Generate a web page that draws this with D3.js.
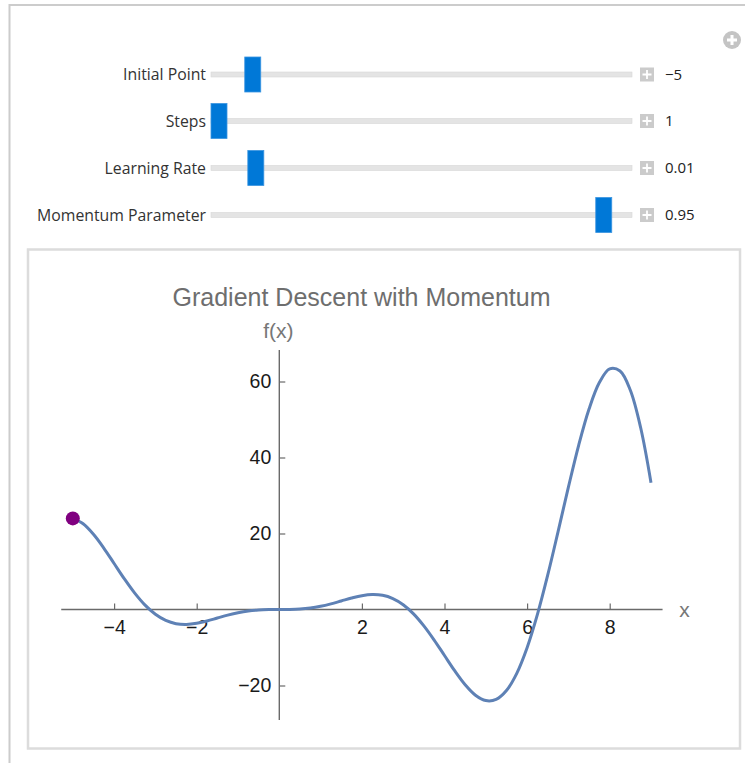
<!DOCTYPE html>
<html><head><meta charset="utf-8">
<script src="https://cdn.jsdelivr.net/npm/d3@7"></script>
<style>body{margin:0;background:#fff;} svg{display:block;}</style>
</head><body><svg id="c" width="745" height="763"></svg>
<script>
// ---- control panel data ----
const sliderLabels = ["Initial Point", "Steps", "Learning Rate", "Momentum Parameter"];
const sliderValues = [-5, 1, 0.01, 0.95];
const sliderMin = [-6, 1, 0.001, 0];
const sliderMax = [6, 50, 0.1, 1];
const sliderText = ["\u22125", "1", "0.01", "0.95"];

// ---- chart data: f(x) ----
const fnX = [-5, -4.75, -4.5, -4.25, -4, -3.75, -3.5, -3.25, -3, -2.75, -2.5, -2.25, -2, -1.75, -1.5, -1.25, -1, -0.75, -0.5, -0.25,
  0, 0.25, 0.5, 0.75, 1, 1.25, 1.5, 1.75, 2, 2.25, 2.5, 2.75, 3, 3.25, 3.5, 3.75, 4, 4.25, 4.5, 4.75, 5,
  5.25, 5.5, 5.75, 6, 6.25, 6.5, 6.75, 7, 7.25, 7.5, 7.75, 8, 8.25, 8.5, 8.75, 9];
const fnY = [23.97, 22.55, 19.79, 16.17, 12.11, 8.04, 4.30, 1.14, -1.27, -2.89, -3.74, -3.94, -3.64, -3.01, -2.24, -1.48, -0.84, -0.38, -0.12, -0.02,
  0, 0.02, 0.12, 0.38, 0.84, 1.48, 2.24, 3.01, 3.64, 3.94, 3.74, 2.89, 1.27, -1.14, -4.30, -8.04, -12.11, -16.17, -19.79, -22.55, -23.97,
  -23.67, -21.34, -16.80, -10.06, -1.30, 9.09, 20.50, 32.19, 43.27, 52.76, 59.73, 63.32, 62.76, 57.69, 47.82, 33.38];
const pointX = [-5];
const pointY = [23.97];

const chartTitle = "Gradient Descent with Momentum";
const xTicks = [-4, -2, 2, 4, 6, 8];
const xMinorTicks = [-5, -4.5, -3.5, -3, -2.5, -1.5, -1, -0.5, 0.5, 1, 1.5, 2.5, 3, 3.5, 4.5, 5, 5.5, 6.5, 7, 7.5, 8.5, 9];
const yTicks = [-20, 20, 40, 60];
const yMinorTicks = [-25, -15, -10, -5, 5, 10, 15, 25, 30, 35, 45, 50, 55, 65];
const xRange = [-5.28, 9.28];
const yRange = [-29.1, 68.3];

const svg = d3.select("#c");
const uiFont = "'Open Sans', 'Noto Sans', sans-serif";
const plotFont = "'Liberation Sans', Arial, sans-serif";

// outer frame
svg.append("path").attr("d", "M9.5,763 V5 H745").attr("fill", "none")
  .attr("stroke", "#cccccc").attr("stroke-width", 2);

// top-right options icon
svg.append("circle").attr("cx", 732).attr("cy", 40).attr("r", 9).attr("fill", "#c4c4c4");
svg.append("path").attr("d", "M727,40 H737 M732,35 V45").attr("stroke", "#fff").attr("stroke-width", 3);

// sliders
const rowY = [74.5, 121, 168, 215];
const rows = svg.selectAll("g.slider").data(sliderLabels).join("g").attr("class", "slider")
  .attr("transform", (d, i) => `translate(0,${rowY[i]})`);
rows.append("text").attr("x", 206).attr("y", 0).attr("dy", "0.35em").attr("text-anchor", "end")
  .attr("font-family", uiFont).attr("font-size", 15.8).attr("fill", "#333").text(d => d);
rows.append("rect").attr("x", 211).attr("y", -2.5).attr("width", 421).attr("height", 5)
  .attr("fill", "#e4e4e4").attr("stroke", "#d8d8d8").attr("stroke-width", 0.6);
rows.append("rect")
  .attr("x", (d, i) => d3.scaleLinear().domain([sliderMin[i], sliderMax[i]]).range([219, 624])(sliderValues[i]) - 8)
  .attr("y", -17.5).attr("width", 16).attr("height", 35)
  .attr("fill", "#0078d7").attr("stroke", "#3b95e0").attr("stroke-width", 0.8);
rows.append("rect").attr("x", 640).attr("y", -7).attr("width", 14).attr("height", 14).attr("fill", "#cbcbcb");
rows.append("path").attr("d", "M642.5,0 H651.5 M647,-4.5 V4.5").attr("stroke", "#fff").attr("stroke-width", 1.8);
rows.append("text").attr("x", 665).attr("y", 0).attr("dy", "0.35em")
  .attr("font-family", uiFont).attr("font-size", 15).attr("fill", "#222").text((d, i) => sliderText[i]);

// plot panel
svg.append("rect").attr("x", 28).attr("y", 249.5).attr("width", 712).attr("height", 499)
  .attr("fill", "#fff").attr("stroke", "#dcdcdc").attr("stroke-width", 2.5);

const x = d3.scaleLinear().domain([-5, 9]).range([72.8, 651]);
const y = d3.scaleLinear().domain([0, 60]).range([609.5, 381.5]);
const axisColor = "#6a6a6a";
const fmt = d => d < 0 ? "\u2212" + Math.abs(d) : String(d);

// title
svg.append("text").attr("x", 361.5).attr("y", 306).attr("text-anchor", "middle")
  .attr("font-family", plotFont).attr("font-size", 25).attr("fill", "#6e6e6e").text(chartTitle);

// axes
const gx = svg.append("g").attr("transform", `translate(0,${y(0)})`);
gx.call(d3.axisBottom(x).tickValues(xMinorTicks).tickSize(-3.5).tickFormat(""));
gx.call(d3.axisBottom(x).tickValues(xTicks).tickSize(-6).tickPadding(11).tickFormat(fmt));
gx.selectAll(".domain").remove();
const gy = svg.append("g").attr("transform", `translate(${x(0)},0)`);
gy.call(d3.axisLeft(y).tickValues(yMinorTicks).tickSize(-3.5).tickFormat(""));
gy.call(d3.axisLeft(y).tickValues(yTicks).tickSize(-6).tickPadding(8).tickFormat(fmt));
gy.selectAll(".domain").remove();
[gx, gy].forEach(g => {
  g.selectAll("line").attr("stroke", axisColor).attr("stroke-width", 1.2);
  g.selectAll("text").attr("font-family", plotFont).attr("font-size", 19.5).attr("fill", "#1a1a1a");
});
svg.append("line").attr("x1", x(xRange[0])).attr("x2", x(xRange[1])).attr("y1", y(0)).attr("y2", y(0))
  .attr("stroke", axisColor).attr("stroke-width", 1.4);
svg.append("line").attr("x1", x(0)).attr("x2", x(0)).attr("y1", y(yRange[1])).attr("y2", y(yRange[0]))
  .attr("stroke", axisColor).attr("stroke-width", 1.4);

// axis labels
svg.append("text").attr("x", 684.5).attr("y", 617).attr("text-anchor", "middle")
  .attr("font-family", plotFont).attr("font-size", 21).attr("fill", "#777").text("x");
svg.append("text").attr("x", x(0) - 1).attr("y", 338).attr("text-anchor", "middle")
  .attr("font-family", plotFont).attr("font-size", 21).attr("fill", "#777").text("f(x)");

// curve
const line = d3.line().x((d, i) => x(fnX[i])).y(d => y(d)).curve(d3.curveCatmullRom);
svg.append("path").datum(fnY).attr("d", line).attr("fill", "none")
  .attr("stroke", "#5e81b5").attr("stroke-width", 3).attr("stroke-linejoin", "round");

// current point
svg.selectAll("circle.pt").data(pointY).join("circle").attr("class", "pt")
  .attr("cx", (d, i) => x(pointX[i])).attr("cy", d => y(d)).attr("r", 7).attr("fill", "#800080");
</script>
</body></html>
